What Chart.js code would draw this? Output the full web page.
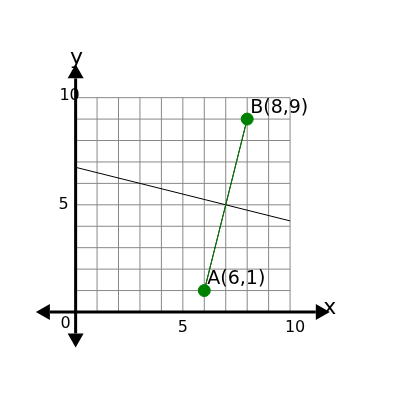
<!DOCTYPE html>
<html>
<head>
<script src="https://cdn.jsdelivr.net/npm/chart.js@4"></script>
<style>body{margin:0;background:#fff}</style>
</head>
<body>
<canvas id="c" width="400" height="400"></canvas>
<script>
const pointNames = ['A', 'B'];
const pointX = [6, 8];
const pointY = [1, 9];
const bisectorX = [0, 10];
const bisectorY = [6.75, 4.25];
const tickValues = [0, 5, 10];

// grid and arrowed axes, drawn through the scales
const axesPlugin = {
  id: 'axes',
  beforeDatasetsDraw(chart) {
    const c = chart.ctx, xs = chart.scales.x, ys = chart.scales.y;
    const px = v => xs.getPixelForValue(v), py = v => ys.getPixelForValue(v);
    c.save();
    c.strokeStyle = '#888'; c.lineWidth = 1;
    for (let i = 0; i <= 10; i++) {
      c.beginPath(); c.moveTo(px(i), py(0)); c.lineTo(px(i), py(10)); c.stroke();
      c.beginPath(); c.moveTo(px(0), py(i)); c.lineTo(px(10), py(i)); c.stroke();
    }
    c.strokeStyle = '#000'; c.fillStyle = '#000'; c.lineWidth = 3;
    const x0 = px(-1.2), x1 = px(11.2), y0 = py(-1), y1 = py(10.9);
    c.beginPath(); c.moveTo(x0, py(0)); c.lineTo(x1, py(0)); c.stroke();
    c.beginPath(); c.moveTo(px(0), y0); c.lineTo(px(0), y1); c.stroke();
    const tri = (a, b, cc) => { c.beginPath(); c.moveTo(...a); c.lineTo(...b); c.lineTo(...cc); c.fill(); };
    tri([x1 + 14, py(0)], [x1, py(0) - 8], [x1, py(0) + 8]);
    tri([x0 - 14, py(0)], [x0, py(0) - 8], [x0, py(0) + 8]);
    tri([px(0), y1 - 14], [px(0) - 8, y1], [px(0) + 8, y1]);
    tri([px(0), y0 + 14], [px(0) - 8, y0], [px(0) + 8, y0]);
    c.font = '16px "DejaVu Sans"';
    c.textAlign = 'center'; c.textBaseline = 'middle';
    c.fillText(tickValues[0], px(0) - 10, py(0) + 12);
    c.fillText(tickValues[1], px(5), py(0) + 16);
    c.fillText(tickValues[2], px(10) + 5, py(0) + 16);
    c.fillText(tickValues[2], px(0) - 6, py(10) - 2);
    c.fillText(tickValues[1], px(0) - 12, py(5));
    c.font = '22px "DejaVu Sans"';
    c.fillText('x', px(11.2) + 14, py(0) - 4);
    c.fillText('y', px(0) + 1, py(10.9) - 20);
    c.restore();
  },
  afterDatasetsDraw(chart) {
    const c = chart.ctx, xs = chart.scales.x, ys = chart.scales.y;
    c.save();
    c.font = '19px "DejaVu Sans"'; c.fillStyle = '#000';
    c.textAlign = 'left'; c.textBaseline = 'bottom';
    pointNames.forEach((n, i) => {
      c.fillText(n + '(' + pointX[i] + ',' + pointY[i] + ')',
        xs.getPixelForValue(pointX[i]) + 3, ys.getPixelForValue(pointY[i]) - 2);
    });
    c.restore();
  }
};

new Chart(document.getElementById('c'), {
  type: 'scatter',
  data: {
    datasets: [
      {
        data: pointX.map((x, i) => ({ x, y: pointY[i] })),
        backgroundColor: 'green', borderColor: 'green', pointRadius: 6,
        showLine: true, borderWidth: 1, order: 0
      },
      {
        data: pointX.map((x, i) => ({ x, y: pointY[i] })),
        borderColor: '#000', borderWidth: 1, showLine: true, pointRadius: 0, order: 1
      },
      {
        data: bisectorX.map((x, i) => ({ x, y: bisectorY[i] })),
        borderColor: '#000', borderWidth: 1, showLine: true, pointRadius: 0, order: 1
      }
    ]
  },
  options: {
    responsive: false, animation: false,
    layout: { padding: 0 },
    plugins: { legend: { display: false }, tooltip: { enabled: false } },
    scales: {
      x: { type: 'linear', min: -3.2, max: 14.8, display: false },
      y: { type: 'linear', min: -3.78, max: 14.23, display: false }
    }
  },
  plugins: [axesPlugin]
});
</script>
</body>
</html>
